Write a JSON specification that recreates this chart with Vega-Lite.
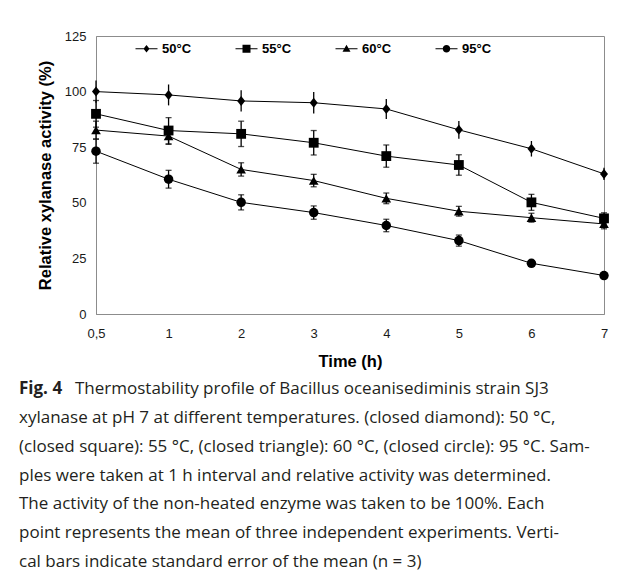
{
  "$schema": "https://vega.github.io/schema/vega-lite/v6.json",
  "padding": {"left": 19, "top": 29, "right": 0, "bottom": 0},
  "background": "white",
  "config": {
    "font": "Liberation Sans",
    "view": {"stroke": "#8c8c8c", "strokeWidth": 1},
    "concat": {"spacing": 5}
  },
  "datasets": {
    "activity": [
      {"temp": "50°C", "time": "0,5", "value": 100, "lo": 95, "hi": 105},
      {"temp": "50°C", "time": "1", "value": 98.5, "lo": 93.8, "hi": 103.2},
      {"temp": "50°C", "time": "2", "value": 95.8, "lo": 91, "hi": 100.6},
      {"temp": "50°C", "time": "3", "value": 95, "lo": 90.2, "hi": 99.8},
      {"temp": "50°C", "time": "4", "value": 92.2, "lo": 87.7, "hi": 96.7},
      {"temp": "50°C", "time": "5", "value": 82.8, "lo": 78.8, "hi": 86.8},
      {"temp": "50°C", "time": "6", "value": 74.3, "lo": 70.8, "hi": 77.8},
      {"temp": "50°C", "time": "7", "value": 63, "lo": 60.2, "hi": 65.8},
      {"temp": "55°C", "time": "0,5", "value": 90, "lo": 84, "hi": 96},
      {"temp": "55°C", "time": "1", "value": 82.5, "lo": 76.5, "hi": 88.3},
      {"temp": "55°C", "time": "2", "value": 81, "lo": 75.3, "hi": 86.7},
      {"temp": "55°C", "time": "3", "value": 77, "lo": 71.5, "hi": 82.5},
      {"temp": "55°C", "time": "4", "value": 71, "lo": 66, "hi": 76},
      {"temp": "55°C", "time": "5", "value": 67, "lo": 62.4, "hi": 71.6},
      {"temp": "55°C", "time": "6", "value": 50.2, "lo": 46.6, "hi": 53.8},
      {"temp": "55°C", "time": "7", "value": 43, "lo": 40.5, "hi": 45.5},
      {"temp": "60°C", "time": "0,5", "value": 82.7, "lo": 78.7, "hi": 86.7},
      {"temp": "60°C", "time": "1", "value": 80, "lo": 76.3, "hi": 83.7},
      {"temp": "60°C", "time": "2", "value": 65, "lo": 62, "hi": 68},
      {"temp": "60°C", "time": "3", "value": 60, "lo": 57.2, "hi": 62.8},
      {"temp": "60°C", "time": "4", "value": 52, "lo": 49.6, "hi": 54.4},
      {"temp": "60°C", "time": "5", "value": 46.2, "lo": 44, "hi": 48.4},
      {"temp": "60°C", "time": "6", "value": 43.3, "lo": 41.3, "hi": 45.3},
      {"temp": "60°C", "time": "7", "value": 40.5, "lo": 38.3, "hi": 42.7},
      {"temp": "95°C", "time": "0,5", "value": 73.2, "lo": 67.8, "hi": 78.6},
      {"temp": "95°C", "time": "1", "value": 60.6, "lo": 56.6, "hi": 64.6},
      {"temp": "95°C", "time": "2", "value": 50.2, "lo": 46.8, "hi": 53.6},
      {"temp": "95°C", "time": "3", "value": 45.6, "lo": 42.6, "hi": 48.6},
      {"temp": "95°C", "time": "4", "value": 39.8, "lo": 37, "hi": 42.6},
      {"temp": "95°C", "time": "5", "value": 33, "lo": 30.5, "hi": 35.5},
      {"temp": "95°C", "time": "6", "value": 22.8, "lo": 21.8, "hi": 23.8},
      {"temp": "95°C", "time": "7", "value": 17.3, "lo": 16.3, "hi": 18.3}
    ],
    "caption": [
      {"line": 1, "part": "label", "text": "Fig. 4"},
      {"line": 1, "part": "head", "text": "Thermostability profile of Bacillus oceanisediminis strain SJ3"},
      {"line": 2, "part": "body", "text": "xylanase at pH 7 at different temperatures. (closed diamond): 50 °C,"},
      {"line": 3, "part": "body", "text": "(closed square): 55 °C, (closed triangle): 60 °C, (closed circle): 95 °C. Sam-"},
      {"line": 4, "part": "body", "text": "ples were taken at 1 h interval and relative activity was determined."},
      {"line": 5, "part": "body", "text": "The activity of the non-heated enzyme was taken to be 100%. Each"},
      {"line": 6, "part": "body", "text": "point represents the mean of three independent experiments. Verti-"},
      {"line": 7, "part": "body", "text": "cal bars indicate standard error of the mean (n = 3)"}
    ]
  },
  "vconcat": [
    {
      "width": 508,
      "height": 278,
      "data": {"name": "activity"},
      "encoding": {
        "x": {
          "field": "time",
          "type": "ordinal",
          "sort": ["0,5", "1", "2", "3", "4", "5", "6", "7"],
          "scale": {"type": "point", "padding": 0},
          "axis": {
            "title": "Time (h)",
            "labelAngle": 0,
            "ticks": false,
            "labelPadding": 13,
            "labelFontSize": 13,
            "labelColor": "#1a1a1a",
            "domainColor": "#8c8c8c",
            "titleFontSize": 16.5,
            "titleFontWeight": "bold",
            "titleColor": "black",
            "titlePadding": 13
          }
        }
      },
      "layer": [
        {
          "mark": {"type": "rule", "color": "black", "strokeWidth": 1.3},
          "encoding": {
            "y": {
              "field": "lo",
              "type": "quantitative",
              "scale": {"domain": [0, 125], "nice": false},
              "axis": {
                "title": "Relative xylanase activity (%)",
                "values": [0, 25, 50, 75, 100, 125],
                "grid": false,
                "ticks": false,
                "labelPadding": 10,
                "labelFontSize": 13,
                "labelColor": "#1a1a1a",
                "domainColor": "#8c8c8c",
                "titleFontSize": 16.5,
                "titleFontWeight": "bold",
                "titleColor": "black",
                "titlePadding": 11
              }
            },
            "y2": {"field": "hi"}
          }
        },
        {
          "transform": [{"filter": "datum.temp !== '50°C'"}],
          "mark": {"type": "tick", "color": "black", "thickness": 1.3, "size": 6, "orient": "horizontal"},
          "encoding": {"y": {"field": "lo", "type": "quantitative"}}
        },
        {
          "transform": [{"filter": "datum.temp !== '50°C'"}],
          "mark": {"type": "tick", "color": "black", "thickness": 1.3, "size": 6, "orient": "horizontal"},
          "encoding": {"y": {"field": "hi", "type": "quantitative"}}
        },
        {
          "mark": {"type": "line", "color": "black", "strokeWidth": 1},
          "encoding": {
            "y": {"field": "value", "type": "quantitative"},
            "detail": {"field": "temp", "type": "nominal"}
          }
        },
        {
          "mark": {"type": "point", "filled": true, "color": "black", "opacity": 1, "strokeWidth": 0},
          "encoding": {
            "y": {"field": "value", "type": "quantitative"},
            "shape": {
              "field": "temp",
              "type": "nominal",
              "scale": {
                "domain": ["50°C", "55°C", "60°C", "95°C"],
                "range": ["M0,-1L0.8,0L0,1L-0.8,0Z", "square", "triangle-up", "circle"]
              },
              "legend": null
            },
            "size": {
              "field": "temp",
              "type": "nominal",
              "scale": {"domain": ["50°C", "55°C", "60°C", "95°C"], "range": [100, 90, 80, 85]},
              "legend": null
            }
          }
        },
        {
          "transform": [{"filter": "false"}],
          "mark": {"type": "point", "filled": true, "color": "black", "opacity": 1, "strokeWidth": 0},
          "encoding": {
            "y": {"field": "value", "type": "quantitative"},
            "shape": {
              "field": "temp",
              "type": "nominal",
              "scale": {
                "domain": ["50°C", "55°C", "60°C", "95°C"],
                "range": [
                  "M-2.2,-0.1H2.2V0.1H-2.2ZM0,-0.75L0.6,0L0,0.75L-0.6,0Z",
                  "M-2.2,-0.1H2.2V0.1H-2.2ZM-0.8,-0.8H0.8V0.8H-0.8Z",
                  "M-2.2,-0.1H2.2V0.1H-2.2ZM0,-0.8L0.8,0.6H-0.8Z",
                  "M-2.2,-0.1H2.2V0.1H-2.2ZM0.75,0A0.75,0.75,0,1,1,-0.75,0A0.75,0.75,0,1,1,0.75,0Z"
                ]
              },
              "legend": {
                "orient": "none",
                "legendX": 44,
                "legendY": 6,
                "direction": "horizontal",
                "title": null,
                "symbolSize": 100,
                "labelOffset": 9,
                "columnPadding": 40,
                "labelFont": "Liberation Sans",
                "labelFontWeight": "bold",
                "labelFontSize": 13,
                "labelColor": "black",
                "symbolFillColor": "black",
                "symbolOpacity": 1
              }
            }
          }
        }
      ],
      "resolve": {
        "scale": {"shape": "independent", "size": "independent"},
        "legend": {"shape": "independent"}
      }
    },
    {
      "width": 580,
      "height": 201,
      "view": {"stroke": null},
      "data": {"name": "caption"},
      "encoding": {
        "y": {"field": "line", "type": "ordinal", "scale": {"type": "point", "padding": 0.5}, "axis": null},
        "x": {"value": -77},
        "text": {"field": "text"}
      },
      "layer": [
        {
          "transform": [{"filter": "datum.part === 'label'"}],
          "mark": {"type": "text", "align": "left", "baseline": "middle", "font": "Open Sans", "fontSize": 17, "fontWeight": "bold", "color": "#231f20"}
        },
        {
          "transform": [{"filter": "datum.part === 'head'"}],
          "mark": {"type": "text", "align": "left", "baseline": "middle", "font": "Open Sans", "fontSize": 17, "color": "#231f20", "dx": 56}
        },
        {
          "transform": [{"filter": "datum.part === 'body'"}],
          "mark": {"type": "text", "align": "left", "baseline": "middle", "font": "Open Sans", "fontSize": 17, "color": "#231f20"}
        }
      ]
    }
  ]
}
